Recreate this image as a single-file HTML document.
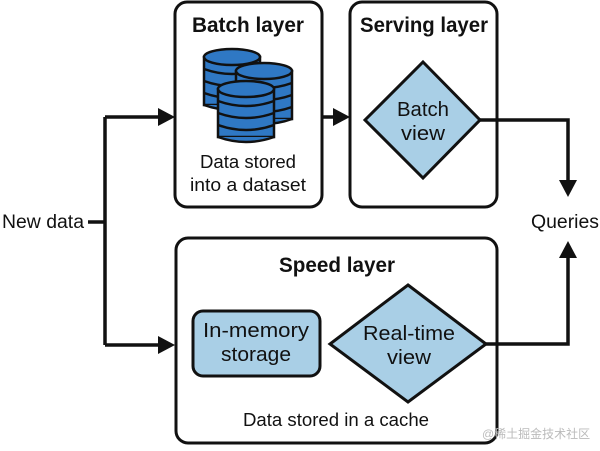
<!DOCTYPE html>
<html><head><style>
body{margin:0;background:#fff;}
svg text{font-family:"Liberation Sans","DejaVu Sans",sans-serif;fill:#111;}
</style></head><body>
<svg width="600" height="446" viewBox="0 0 600 446" xmlns="http://www.w3.org/2000/svg">
<defs>
<g id="cyl">
<rect x="0" y="7" width="56" height="48" fill="#2f78c4" stroke="#111" stroke-width="2.5"/>
<path d="M0 19 Q28 29 56 19 M0 31 Q28 41 56 31 M0 43 Q28 53 56 43" fill="none" stroke="#111" stroke-width="2.5"/>
<path d="M0 55 Q28 65 56 55" fill="#2f78c4" stroke="#111" stroke-width="2.5"/>
<ellipse cx="28" cy="7" rx="28" ry="8" fill="#2f78c4" stroke="#111" stroke-width="2.5"/>
</g>
</defs>
<g fill="none" stroke="#111" stroke-width="3">
<rect x="175" y="2" width="147" height="205" rx="12"/>
<rect x="350" y="2" width="147" height="205" rx="12"/>
<rect x="176" y="238" width="321" height="205" rx="12"/>
</g>
<use href="#cyl" x="204" y="50"/>
<use href="#cyl" x="236" y="64"/>
<use href="#cyl" x="218" y="82"/>
<text x="248" y="32" font-size="21" text-anchor="middle" font-weight="bold" textLength="112" lengthAdjust="spacingAndGlyphs">Batch layer</text>
<text x="424" y="32" font-size="21" text-anchor="middle" font-weight="bold" textLength="128" lengthAdjust="spacingAndGlyphs">Serving layer</text>
<text x="337" y="272" font-size="21" text-anchor="middle" font-weight="bold" textLength="116" lengthAdjust="spacingAndGlyphs">Speed layer</text>
<text x="248" y="168" font-size="18" text-anchor="middle" textLength="96" lengthAdjust="spacingAndGlyphs">Data stored</text>
<text x="248" y="191" font-size="18" text-anchor="middle" textLength="116" lengthAdjust="spacingAndGlyphs">into a dataset</text>
<text x="336" y="426" font-size="18" text-anchor="middle" textLength="186" lengthAdjust="spacingAndGlyphs">Data stored in a cache</text>
<polygon points="423,62 480,120 423,178 365,120" fill="#a9cfe6" stroke="#111" stroke-width="3"/>
<text x="423" y="116" font-size="20" text-anchor="middle" textLength="52" lengthAdjust="spacingAndGlyphs">Batch</text>
<text x="423" y="140" font-size="20" text-anchor="middle" textLength="44" lengthAdjust="spacingAndGlyphs">view</text>
<polygon points="408,285 486,344 408,402 330,344" fill="#a9cfe6" stroke="#111" stroke-width="3"/>
<text x="409" y="340" font-size="20" text-anchor="middle" textLength="92" lengthAdjust="spacingAndGlyphs">Real-time</text>
<text x="409" y="364" font-size="20" text-anchor="middle" textLength="44" lengthAdjust="spacingAndGlyphs">view</text>
<rect x="193" y="311" width="127" height="65" rx="10" fill="#a9cfe6" stroke="#111" stroke-width="3"/>
<text x="256" y="337" font-size="20" text-anchor="middle" textLength="106" lengthAdjust="spacingAndGlyphs">In-memory</text>
<text x="256" y="361" font-size="20" text-anchor="middle" textLength="70" lengthAdjust="spacingAndGlyphs">storage</text>
<text x="2" y="228" font-size="19" textLength="82" lengthAdjust="spacingAndGlyphs">New data</text>
<text x="531" y="228" font-size="19" textLength="68" lengthAdjust="spacingAndGlyphs">Queries</text>
<g fill="none" stroke="#111" stroke-width="3.5">
<path d="M88 222 H105 M105 117 V345 M105 117 H160 M105 345 H160"/>
<path d="M322 117 H335"/>
<path d="M480 120 H568 V180"/>
<path d="M486 344 H568 V258"/>
</g>
<g fill="#111">
<polygon points="158,108 175,117 158,126"/>
<polygon points="158,336 175,345 158,354"/>
<polygon points="333,108 350,117 333,126"/>
<polygon points="559,180 577,180 568,197"/>
<polygon points="559,258 577,258 568,241"/>
</g>
<text x="482" y="438" font-size="12" style="fill:#bbb" font-family="Liberation Sans,Noto Sans CJK SC,sans-serif">@稀土掘金技术社区</text>
</svg>
</body></html>
